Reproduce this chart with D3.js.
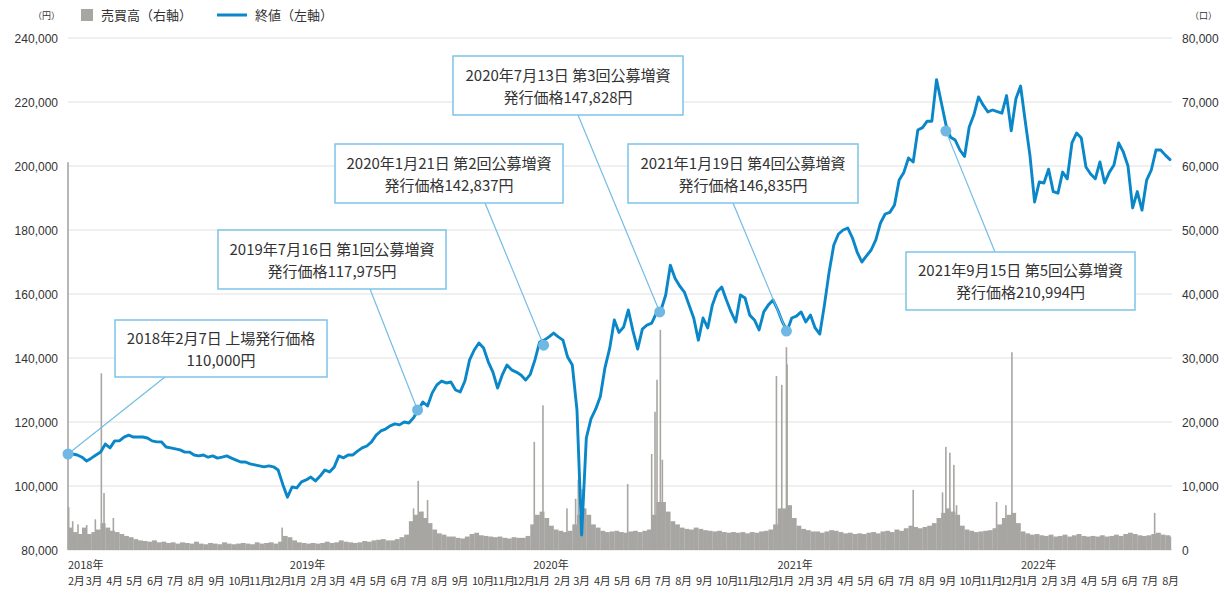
<!DOCTYPE html>
<html><head><meta charset="utf-8">
<script src="https://cdn.jsdelivr.net/npm/d3@7"></script>
<style>
body{margin:0;background:#fff;}
svg{display:block;font-family:"Noto Sans CJK JP","Noto Sans",sans-serif;}
</style></head><body>
<svg id="chart" width="1219" height="591"></svg>
<script>
// ---- Weekly closing prices (円), one value per week from each start date ----
const start2018 = "2018-02-07";
const close2018 = [110000,110000,109700,109000,107800,108700,109700,110600,113100,111900,
 114100,114100,115300,115900,115300,115300,115300,115000,114100,113800,
 113800,112200,111900,111600,111300,110600,110600,109700,109400,109700,
 109000,109400,108700,109000,109400,108700,108100,107500,107500,106900,
 106600,106300,106000,106300,106000,105000,100500];
const start2019 = "2019-01-02";
const close2019 = [96500,99700,99400,101300,101900,102800,101600,103100,105000,104400,
 105900,109400,108800,109700,109700,110900,111900,112500,113800,115900,
 117200,117800,118800,119400,119100,120000,119700,121300,123750,126250,
 125000,129100,131600,132800,132200,132500,130000,129400,132800,139400,
 142500,144700,143100,138800,135600,130600,134700,137800,136300,135600,
 134700,133100];
const start2020 = "2020-01-01";
const close2020 = [134900,139400,145000,145600,146600,147800,146600,145600,140300,137800,
 123750,84700,115000,121000,124000,128000,137000,143000,151900,148000,
 149700,155000,148400,142800,149000,150300,150900,154000,155000,159700,
 169000,164900,162500,160600,156600,152500,145600,152500,149400,156600,
 160600,162200,158100,154400,151250,159700,158750,153400,151900,148750,
 154400,156600,158100];
const start2021 = "2021-01-06";
const close2021 = [155000,151250,148400,152500,153100,154400,151250,153400,149400,147500,
 156600,166900,175300,178750,180000,180600,177500,173100,170000,171900,
 173750,176900,182200,185000,185500,187800,195600,198000,202500,201250,
 211250,212000,214000,214000,227000,220000,213000,209000,208100,205000,
 203000,212200,216000,221600,219000,216900,217500,217000,216500,222000,
 211000,221000];
const start2022 = "2022-01-05";
const close2022 = [225000,214000,203400,188750,195000,194700,199000,192000,191500,198100,
 196000,207200,210300,208750,199700,197500,196000,201250,194700,198000,
 200300,207200,204400,200000,186900,192000,186200,195600,198750,205000,
 205000,203400,202000];

// ---- Weekly typical trading volume (口) ----
const vol2018 = [3500,2800,2500,3500,2500,2800,3200,4200,3500,3000,
 2800,2500,2200,2000,1700,1500,1400,1300,1500,1200,
 1300,1100,1200,1000,1200,1100,1000,1300,1000,900,
 1100,1000,900,1200,1000,900,1000,1100,1000,900,
 1200,1000,1100,1200,1000,1300,2200];
const vol2019 = [2000,1500,1200,1100,1000,1100,1000,1100,1300,1100,
 1200,1500,1300,1200,1100,1200,1400,1300,1500,1600,
 1700,1500,1500,1700,2000,2400,4500,5500,6000,5000,
 4200,3200,2600,2400,2100,2100,1900,1800,2100,2500,
 2700,2300,2200,2100,2000,2100,1900,1800,2000,1900,
 1900,2200];
const vol2020 = [4000,5500,6000,5000,3800,3200,3000,2800,3000,4000,
 5500,6500,5500,4000,3500,3000,2800,2900,3000,2800,
 2700,2900,3000,2800,3000,3200,5500,7500,7500,6000,
 4500,4000,3500,3300,3200,3500,3300,3100,3000,2900,
 3000,2800,2700,2800,2700,2800,2600,2800,2700,2900,
 3000,3200,4000];
const vol2021 = [6500,6500,7000,5000,3800,3300,3100,2900,2900,2700,
 2900,3100,3000,2800,2600,2700,2500,2600,2500,2700,
 2800,2600,2900,3000,2800,3200,3000,3400,3800,3600,
 3400,3600,3800,4200,5000,5800,6500,6000,5500,3800,
 3200,3000,2800,2900,3000,3100,3400,4000,5000,5500,
 5800,4200];
const vol2022 = [2900,2600,2400,2500,2300,2200,2400,2100,2200,2400,
 2100,2300,2500,2200,2100,2200,2100,2300,2100,2200,
 2400,2200,2500,2700,2500,2300,2200,2300,2500,2700,
 2400,2300,2100];

// ---- Single-day volume spikes (口) ----
const spikeDates = ["2018-02-07","2018-02-08","2018-02-14","2018-02-22","2018-03-07","2018-03-20",
 "2018-03-29","2018-04-02","2018-04-16","2018-12-25",
 "2019-07-10","2019-07-17","2019-07-24","2019-07-31","2020-01-07","2020-01-20","2020-02-25",
 "2020-03-09","2020-03-13","2020-03-19","2020-05-26","2020-07-01","2020-07-06","2020-07-09",
 "2020-07-14","2020-07-17","2021-01-04","2021-01-12","2021-01-19","2021-01-20","2021-07-28",
 "2021-09-10","2021-09-15","2021-09-21","2021-09-27","2021-10-01","2021-11-30","2021-12-14",
 "2021-12-23","2022-07-25"];
const spikeVols = [60600,6700,4500,4000,3900,4800,
 27600,8900,5000,3500,
 6500,10800,6000,7800,16900,22600,6500,
 8000,11000,9500,10300,15000,21600,26600,
 34400,14100,27200,25800,31700,29000,9400,
 9000,16100,15200,13300,7000,7500,7000,
 30900,5800];

// ---- Annotations ----
const annDates = ["2018-02-07","2019-07-16","2020-01-21","2020-07-13","2021-01-19","2021-09-15"];
const annCloses = [110000,123750,144000,154400,148400,210900];
const annLine1 = ["2018年2月7日 上場発行価格","2019年7月16日 第1回公募増資","2020年1月21日 第2回公募増資",
 "2020年7月13日 第3回公募増資","2021年1月19日 第4回公募増資","2021年9月15日 第5回公募増資"];
const annLine2 = ["110,000円","発行価格117,975円","発行価格142,837円","発行価格147,828円","発行価格146,835円","発行価格210,994円"];

// ---- Axis ticks ----
const leftTicks = [80000,100000,120000,140000,160000,180000,200000,220000,240000];
const rightTicks = [0,10000,20000,30000,40000,50000,60000,70000,80000];
const legendLabels = ["売買高（右軸）","終値（左軸）"];

// ---- Layout (pixels) ----
const L = {left:68, right:1170, top:38, bottom:550, gridRight:1172};
const boxes = [
 {x:115,y:320,w:212,h:57,ex:165,ey:377},
 {x:218,y:230,w:228,h:59,ex:370,ey:289},
 {x:335,y:144,w:228,h:59,ex:485,ey:203},
 {x:453,y:56,w:230,h:59,ex:578,ey:115},
 {x:628,y:144,w:230,h:59,ex:733,ey:203},
 {x:906,y:252,w:229,h:58,ex:995,ey:252}
];
const C = {line:"#0a87c9", bar:"#a7a6a2", grid:"#ebebeb", marker:"#6fb8e4", leader:"#74bce6", box:"#7dc3ea", text:"#333"};

const parse = d3.timeParse("%Y-%m-%d");
const yearsTable = [
 [start2018, close2018, vol2018],[start2019, close2019, vol2019],[start2020, close2020, vol2020],
 [start2021, close2021, vol2021],[start2022, close2022, vol2022]];
const weekly = [];
yearsTable.forEach(([s, cl, vo]) => {
  const sd = parse(s);
  cl.forEach((c,k) => weekly.push({date: d3.timeDay.offset(sd, 7*k), close:c, vol:vo[k]}));
});
const lastDate = weekly[weekly.length-1].date;

const svg = d3.select("#chart");
const x = d3.scaleTime().domain([parse(start2018), lastDate]).range([L.left, L.right]);
const yL = d3.scaleLinear().domain([80000,240000]).range([L.bottom, L.top]);
const yR = d3.scaleLinear().domain([0,80000]).range([L.bottom, L.top]);

// grid
svg.append("g").selectAll("line").data(leftTicks).join("line")
  .attr("x1", L.left).attr("x2", L.gridRight)
  .attr("y1", d=>yL(d)).attr("y2", d=>yL(d))
  .attr("stroke", C.grid).attr("stroke-width", 1.5);

// axis labels
const fmt = d3.format(",");
svg.append("g").selectAll("text").data(leftTicks).join("text")
  .attr("x", 58).attr("y", d=>yL(d)+4.5).attr("text-anchor","end")
  .style("font-family","'Liberation Sans',Arial,sans-serif").style("font-size","12px").attr("fill", C.text)
  .text(d=>fmt(d));
svg.append("g").selectAll("text").data(rightTicks).join("text")
  .attr("x", 1182).attr("y", d=>yR(d)+4.5).attr("text-anchor","start")
  .style("font-family","'Liberation Sans',Arial,sans-serif").style("font-size","12px").attr("fill", C.text)
  .text(d=>fmt(d));

// units
svg.append("text").attr("x",60).attr("y",19).attr("text-anchor","end").style("font-size","9px").attr("fill",C.text).text("（円）");
svg.append("text").attr("x",1217).attr("y",19).attr("text-anchor","end").style("font-size","9px").attr("fill",C.text).text("（口）");

// legend
svg.append("rect").attr("x",81).attr("y",9).attr("width",12).attr("height",12).attr("fill",C.bar);
svg.append("text").attr("x",101).attr("y",20).style("font-size","13px").attr("fill",C.text).text(legendLabels[0]);
svg.append("line").attr("x1",217).attr("x2",247).attr("y1",15).attr("y2",15).attr("stroke",C.line).attr("stroke-width",3);
svg.append("text").attr("x",255).attr("y",20).style("font-size","13px").attr("fill",C.text).text(legendLabels[1]);

// volume bars (weekly)
const barG = svg.append("g");
barG.selectAll("rect.w").data(weekly).join("rect").attr("class","w")
  .attr("x", d=>x(d.date))
  .attr("width", d=>Math.max(0, Math.min(L.right+1, x(d3.timeDay.offset(d.date,7))) - x(d.date) + 0.2))
  .attr("y", d=>yR(d.vol)).attr("height", d=>L.bottom - yR(d.vol))
  .attr("fill", C.bar);
const spikes = spikeDates.map((s,i)=>({date:parse(s), vol:spikeVols[i]}));
barG.selectAll("rect.s").data(spikes).join("rect").attr("class","s")
  .attr("x", d=>x(d.date)-0.8).attr("width",1.6)
  .attr("y", d=>yR(d.vol)).attr("height", d=>L.bottom - yR(d.vol))
  .attr("fill", C.bar);

// price line
const line = d3.line().x(d=>x(d.date)).y(d=>yL(d.close));
svg.append("path").datum(weekly).attr("d", line)
  .attr("fill","none").attr("stroke",C.line).attr("stroke-width",2.9)
  .attr("stroke-linejoin","round").attr("stroke-linecap","round");

// x axis labels
const months = d3.timeMonth.range(parse("2018-02-01"), parse("2022-09-01"));
svg.append("g").selectAll("text").data(months).join("text")
  .attr("x", d=>Math.max(L.left, x(d)+3)).attr("y", 585)
  .style("font-size","11px").style("letter-spacing","-0.4px").attr("fill",C.text)
  .text(d=>(d.getMonth()+1)+"月");
const yrs = d3.timeYear.range(parse("2018-01-01"), parse("2023-01-01"));
svg.append("g").selectAll("text").data(yrs).join("text")
  .attr("x", d=>Math.max(L.left, x(d)+3)).attr("y", 569)
  .style("font-size","11px").attr("fill",C.text)
  .text(d=>d.getFullYear()+"年");

// annotations
const ann = annDates.map((s,i)=>({date:parse(s), close:annCloses[i], t1:annLine1[i], t2:annLine2[i], b:boxes[i]}));
const aG = svg.append("g");
aG.selectAll("line").data(ann).join("line")
  .attr("x1", d=>x(d.date)).attr("y1", d=>yL(d.close))
  .attr("x2", d=>d.b.ex).attr("y2", d=>d.b.ey)
  .attr("stroke", C.leader).attr("stroke-width",1.2);
aG.selectAll("circle").data(ann).join("circle")
  .attr("cx", d=>x(d.date)).attr("cy", d=>yL(d.close)).attr("r",5.5)
  .attr("fill", C.marker);
const bg = aG.selectAll("g.box").data(ann).join("g").attr("class","box");
bg.append("rect").attr("x",d=>d.b.x).attr("y",d=>d.b.y).attr("width",d=>d.b.w).attr("height",d=>d.b.h)
  .attr("fill","#fff").attr("stroke",C.box).attr("stroke-width",1.5);
bg.append("text").attr("x",d=>d.b.x+d.b.w/2).attr("y",d=>d.b.y+d.b.h/2-5).attr("text-anchor","middle")
  .style("font-size","15px").attr("fill",C.text).text(d=>d.t1);
bg.append("text").attr("x",d=>d.b.x+d.b.w/2).attr("y",d=>d.b.y+d.b.h/2+17).attr("text-anchor","middle")
  .style("font-size","15px").attr("fill",C.text).text(d=>d.t2);
</script>
</body></html>
